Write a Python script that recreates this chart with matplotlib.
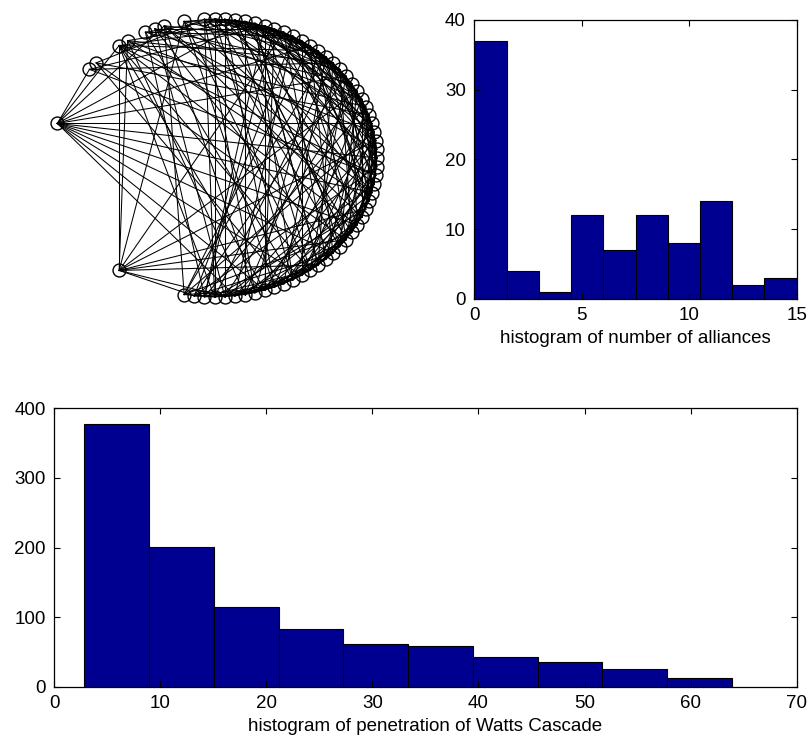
import numpy as np
import matplotlib
matplotlib.use("Agg")
import matplotlib.pyplot as plt

plt.rcParams['font.family'] = ['Liberation Sans', 'DejaVu Sans']

# ---------------- data ----------------
# network: 100 nodes placed on a circle (index k -> angle 2*pi*k/100), edges listed below
n_nodes = 100
edges = [
    (46, 39), (46, 35), (46, 30), (46, 22), (46, 15), (46, 10), (46, 4), (46, 0),
    (46, 96), (46, 92), (46, 88), (46, 84), (46, 80), (46, 77),
    (65, 35), (65, 34), (65, 28), (65, 18), (65, 8), (65, 2), (65, 94), (65, 90),
    (65, 86), (65, 76), (65, 73),
    (39, 20), (39, 12), (39, 98),
    (38, 26), (38, 5), (38, 90), (38, 82),
    (35, 75), (35, 80), (35, 85), (35, 92), (35, 98), (35, 6), (35, 14), (35, 20),
    (34, 78), (34, 95), (34, 3), (34, 12), (34, 22),
    (32, 74), (32, 83), (32, 9), (32, 17), (32, 24),
    (31, 76), (31, 88), (31, 1), (31, 11), (31, 19),
    (30, 79), (30, 72), (30, 93), (30, 7), (30, 16), (30, 96),
    (28, 81), (28, 97), (28, 13), (28, 21), (28, 25), (28, 85),
    (26, 75), (26, 89), (26, 4), (26, 18), (26, 23), (26, 79),
    (72, 80), (72, 91), (72, 3), (72, 15), (72, 75),
    (73, 79), (73, 88), (73, 99), (73, 10), (73, 76),
    (74, 77), (74, 85), (74, 6), (74, 20), (74, 78),
    (75, 25), (75, 83), (75, 94), (75, 12), (75, 79),
    (76, 82), (76, 97), (76, 8), (76, 80),
    (77, 84), (77, 90), (77, 2), (77, 17), (77, 81),
    (78, 86), (78, 96), (78, 11), (78, 22), (78, 82),
    (79, 87), (79, 1), (79, 14), (79, 83),
    (80, 89), (80, 95), (80, 5), (80, 19), (80, 84), (80, 20),
    (81, 86), (81, 93), (81, 9), (81, 24), (81, 85),
    (82, 91), (82, 0), (82, 13), (82, 87),
    (83, 88), (83, 98), (83, 7), (83, 21), (83, 86), (83, 25),
    (84, 92), (84, 4), (84, 16), (84, 89),
    (85, 90), (85, 99), (85, 10), (85, 23), (85, 88),
    (86, 94), (86, 3), (86, 12), (86, 91), (86, 21),
    (87, 93), (87, 6), (87, 18), (87, 90),
    (88, 97), (88, 2), (88, 15), (88, 92),
    (89, 96), (89, 8), (89, 20), (89, 93),
    (90, 98), (90, 5), (90, 14), (90, 95), (90, 23),
    (91, 0), (91, 11), (91, 25), (91, 94),
    (92, 1), (92, 9), (92, 17), (92, 96),
    (93, 99), (93, 7), (93, 22), (93, 97),
    (94, 4), (94, 13), (94, 98),
    (95, 3), (95, 10), (95, 19), (95, 99), (95, 15),
    (96, 6), (96, 16), (96, 24), (96, 0),
    (97, 2), (97, 12), (97, 1),
    (98, 8), (98, 18), (98, 3),
    (99, 5), (99, 14), (99, 21), (99, 2),
    (0, 7), (0, 13), (0, 23), (0, 4),
    (1, 6), (1, 15), (1, 20), (1, 5),
    (2, 9), (2, 19), (2, 6),
    (3, 8), (3, 17), (3, 25), (3, 7),
    (4, 11), (4, 21), (4, 9),
    (5, 12), (5, 18), (5, 10),
    (6, 14), (6, 22), (6, 11),
    (7, 13), (7, 24), (7, 12),
    (8, 16), (8, 23), (8, 12),
    (9, 15), (9, 20), (9, 13),
    (10, 17), (10, 24), (10, 14),
    (11, 18), (11, 22), (11, 16),
    (12, 19), (12, 25), (12, 17),
    (13, 21), (13, 18), (13, 72),
    (14, 20), (14, 23), (14, 19),
    (15, 22), (15, 20),
    (16, 21), (16, 25), (16, 20),
    (17, 24), (17, 22), (17, 73),
    (18, 23), (18, 22),
    (19, 24), (19, 23), (19, 74),
    (20, 25),
    (21, 25), (21, 86),
    (22, 25), (22, 78),
    (23, 90),
    (24, 76),
]

# histogram of number of alliances (10 bins over 0..15)
alliance_min, alliance_max = 0, 15
alliance_counts = [37, 4, 1, 12, 7, 12, 8, 14, 2, 3]

# histogram of penetration of Watts Cascade (10 bins)
penetration_min, penetration_max = 2.86, 63.9
penetration_counts = [377, 201, 115, 83, 61, 58, 42, 36, 25, 12]

bar_color = '#000090'
W, H = 810, 746

fig = plt.figure(figsize=(W / 100, H / 100), dpi=100)


def px_axes(left, top, right, bottom):
    return fig.add_axes([left / W, 1 - bottom / H, (right - left) / W, (bottom - top) / H])


# ---------------- network graph ----------------
cx, cy, rx, ry = 214.6, 158.0, 162.4, 139.0
axg = px_axes(cx - 180, cy - 155, cx + 180, cy + 155)
axg.set_xlim(-180 / rx, 180 / rx)
axg.set_ylim(-155 / ry, 155 / ry)
axg.axis('off')

ang = 2 * np.pi * np.arange(n_nodes) / n_nodes
xs, ys = np.cos(ang), np.sin(ang)
for a, b in edges:
    axg.plot([xs[a], xs[b]], [ys[a], ys[b]], '-', color='k', lw=0.75)
used = sorted({v for e in edges for v in e})
axg.plot(xs[used], ys[used], 'o', mfc='none', mec='k', ms=9.3, mew=1.0, ls='none')


def style(ax):
    ax.tick_params(direction='in', top=True, right=True, length=4, width=0.8,
                   labelsize=13.5, pad=6, colors='k')
    for s in ax.spines.values():
        s.set_linewidth(0.9)


# ---------------- top-right histogram ----------------
axh = px_axes(474.3, 20, 796.7, 299)
edges_a = np.linspace(alliance_min, alliance_max, len(alliance_counts) + 1)
axh.hist(edges_a[:-1], bins=edges_a, weights=alliance_counts, color=bar_color,
         edgecolor='k', linewidth=0.8)
axh.set_xlim(0, 15)
axh.set_ylim(0, 40)
axh.set_xticks([0, 5, 10, 15])
axh.set_yticks([0, 10, 20, 30, 40])
axh.set_xlabel('histogram of number of alliances', fontsize=13.5, labelpad=4)
style(axh)

# ---------------- bottom histogram ----------------
axb = px_axes(54, 408.3, 796.7, 686.7)
edges_p = np.linspace(penetration_min, penetration_max, len(penetration_counts) + 1)
axb.hist(edges_p[:-1], bins=edges_p, weights=penetration_counts, color=bar_color,
         edgecolor='k', linewidth=0.8)
axb.set_xlim(0, 70)
axb.set_ylim(0, 400)
axb.set_xticks(np.arange(0, 71, 10))
axb.set_yticks([0, 100, 200, 300, 400])
axb.set_xlabel('histogram of penetration of Watts Cascade', fontsize=13.5, labelpad=4)
style(axb)

fig.savefig('out.png', dpi=100)
